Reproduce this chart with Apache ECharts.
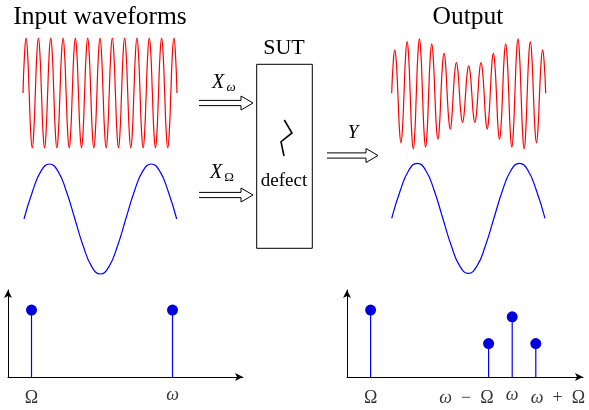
<!DOCTYPE html>
<html><head><meta charset="utf-8">
<script src="https://cdn.jsdelivr.net/npm/echarts@6/dist/echarts.min.js"></script>
<style>html,body{margin:0;padding:0;background:#fff}#c{width:589px;height:410px}</style>
</head><body><div id="c"></div>
<script>
// ---- data ----
// waveforms sampled every 1/8 carrier period (red) and every 1/12 period (blue), amplitude 1 = input peak
const inputCarrier = [0,0.71,1,0.71,0,-0.71,-1,-0.71, 0,0.71,1,0.71,0,-0.71,-1,-0.71, 0,0.71,1,0.71,0,-0.71,-1,-0.71,
  0,0.71,1,0.71,0,-0.71,-1,-0.71, 0,0.71,1,0.71,0,-0.71,-1,-0.71, 0,0.71,1,0.71,0,-0.71,-1,-0.71,
  0,0.71,1,0.71,0,-0.71,-1,-0.71, 0,0.71,1,0.71,0,-0.71,-1,-0.71, 0,0.71,1,0.71,0,-0.71,-1,-0.71,
  0,0.71,1,0.71,0,-0.71,-1,-0.71, 0,0.71,1,0.71,0,-0.71,-1,-0.71, 0,0.71,1,0.71,0,-0.71,-1,-0.71,
  0,0.71,1,0.71,0];
const inputModulator = [0,0.5,0.87,1,0.87,0.5,0,-0.5,-0.87,-1,-0.87,-0.5,0,0.5,0.87,1,0.87,0.5,0];
const outputCarrier = [0,0.56,0.79,0.56, 0,-0.64,-0.90,-0.64, 0,0.67,0.94,0.67, 0,-0.72,-1.01,-0.72,
  0,0.70,0.99,0.70, 0,-0.70,-0.98,-0.70, 0,0.64,0.90,0.64, 0,-0.60,-0.84,-0.60,
  0,0.52,0.73,0.52, 0,-0.46,-0.65,-0.46, 0,0.40,0.56,0.40, 0,-0.38,-0.53,-0.38,
  0,0.36,0.50,0.36, 0,-0.38,-0.53,-0.38, 0,0.40,0.56,0.40, 0,-0.46,-0.65,-0.46,
  0,0.52,0.73,0.52, 0,-0.60,-0.84,-0.60, 0,0.64,0.90,0.64, 0,-0.70,-0.98,-0.70,
  0,0.70,0.99,0.70, 0,-0.72,-1.01,-0.72, 0,0.67,0.94,0.67, 0,-0.64,-0.90,-0.64,
  0,0.56,0.79,0.56, 0];
const outputModulator = [0,0.5,0.87,1,0.87,0.5,0,-0.5,-0.87,-1,-0.87,-0.5,0,0.5,0.87,1,0.87,0.5,0];
// spectra (frequency in units of Omega)
const inputFreqs = [1, 7];
const inputMags = [1, 1];
const inputLabels = ['Ω', 'ω'];
const outputFreqs = [1, 6, 7, 8];
const outputMags = [1, 0.5, 0.9, 0.5];
const outputLabels = ['Ω', 'ω − Ω', 'ω', 'ω + Ω'];
// texts
const titleIn = 'Input waveforms';
const titleOut = 'Output';
const blockName = 'SUT';
const blockNote = 'defect';

// ---- styles ----
const SERIF = "'Liberation Serif','DejaVu Serif',serif";
const RED = '#ff0000', BLUE = '#0000ff', DOT = '#0000dd';

const waveGrids = [
  {left: 23, top: 35.25, width: 154, height: 115.5},
  {left: 24, top: 161.25, width: 152.7, height: 115.5},
  {left: 391.7, top: 35.55, width: 154, height: 115.5},
  {left: 391.7, top: 160.55, width: 153.3, height: 115.5}
];
const waves = [[inputCarrier, RED], [inputModulator, BLUE], [outputCarrier, RED], [outputModulator, BLUE]];

const specGrids = [
  {left: 8, top: 290, width: 235, height: 87},
  {left: 347, top: 290, width: 236, height: 87}
];
const specs = [[inputFreqs, inputMags, inputLabels], [outputFreqs, outputMags, outputLabels]];

const base = {fontFamily: SERIF, fontSize: 18, color: '#000', lineHeight: 18};
const rich = {
  u: Object.assign({}, base),
  i: Object.assign({}, base, {fontStyle: 'italic'}),
  w: Object.assign({}, base, {fontStyle: 'italic', lineHeight: 12})
};
function richLabel(t) {
  if (t === 'Ω') return '{u|Ω}';
  if (t === 'ω') return '{w|ω}';
  if (t.indexOf('−') >= 0) return '{i|ω}{u|\u2002−\u2002Ω}';
  if (t.indexOf('+') >= 0) return '{i|ω}{u|\u2002+\u2002Ω}';
  return t;
}
function labelPlacement(t) {
  if (t.indexOf('−') >= 0) return {align: 'right', offset: [5, 0]};
  if (t.indexOf('+') >= 0) return {align: 'left', offset: [-5, 0]};
  return {};
}

const grid = [], xAxis = [], yAxis = [], series = [];
waves.forEach(([d, col], k) => {
  grid.push(waveGrids[k]);
  xAxis.push({gridIndex: k, type: 'category', boundaryGap: false, data: d.map((_, i) => i), show: false});
  yAxis.push({gridIndex: k, type: 'value', min: -1.05, max: 1.05, show: false});
  series.push({type: 'line', xAxisIndex: k, yAxisIndex: k, data: d, smooth: true, showSymbol: false,
    clip: false, lineStyle: {color: col, width: 1.2}, silent: true});
});
specs.forEach(([f, m, l], j) => {
  const k = waves.length + j;
  grid.push(specGrids[j]);
  xAxis.push({gridIndex: k, type: 'value', min: 0, max: 10,
    axisLine: {show: true, symbol: ['none', 'arrow'], symbolSize: [6, 8], lineStyle: {color: '#000', width: 1}},
    axisTick: {show: false}, splitLine: {show: false}, axisLabel: {show: false}});
  yAxis.push({gridIndex: k, type: 'value', min: 0, max: 1.3,
    axisLine: {show: true, symbol: ['none', 'arrow'], symbolSize: [6, 8], lineStyle: {color: '#000', width: 1}},
    axisTick: {show: false}, splitLine: {show: false}, axisLabel: {show: false}});
  const pts = f.map((x, i) => [x, m[i]]);
  series.push({type: 'bar', xAxisIndex: k, yAxisIndex: k, data: pts, barWidth: 1.2,
    itemStyle: {color: BLUE}, silent: true});
  series.push({type: 'scatter', xAxisIndex: k, yAxisIndex: k, data: pts, symbolSize: 11,
    itemStyle: {color: DOT, opacity: 1}, silent: true, z: 5});
  series.push({type: 'scatter', xAxisIndex: k, yAxisIndex: k, symbolSize: 0, silent: true, clip: false,
    data: f.map((x, i) => ({value: [x, 0], label: labelPlacement(l[i])})),
    label: {show: true, position: 'bottom', distance: 12, rich: rich,
      formatter: p => richLabel(l[p.dataIndex])}});
});

// ---- block diagram decorations ----
function dblArrow(x0, x1, y) {
  const xb = x1 - 12, g = 2.6, h = 7;
  const st = {stroke: '#000', lineWidth: 1, fill: null};
  return [
    {type: 'polyline', shape: {points: [[x0, y - g], [xb, y - g]]}, style: st},
    {type: 'polyline', shape: {points: [[x0, y + g], [xb, y + g]]}, style: st},
    {type: 'polyline', shape: {points: [[xb, y - g], [xb, y - h], [x1, y], [xb, y + h], [xb, y + g]]}, style: st}
  ];
}
function txt(text, x, y, font) {
  return {type: 'text', x: x, y: y, style: {text: text, font: font + ' ' + SERIF,
    fill: '#000', align: 'center', verticalAlign: 'middle'}};
}
const graphic = [
  txt(titleIn, 100, 17, '25.5px'),
  txt(titleOut, 468, 17, '25.5px'),
  txt(blockName, 284, 48, '22px'),
  {type: 'rect', shape: {x: 256.7, y: 64.3, width: 55.6, height: 184}, style: {stroke: '#000', lineWidth: 1, fill: null}},
  {type: 'polyline', shape: {points: [[284.3, 120], [292, 133], [281, 141.7], [284, 156]]}, style: {stroke: '#000', lineWidth: 1.6, fill: null}},
  txt(blockNote, 284, 181, '19px'),
  ...dblArrow(199, 253, 103),
  ...dblArrow(199, 253, 195),
  ...dblArrow(327, 378, 155.5),
  txt('X', 218, 83, 'italic 20px'),
  txt('ω', 231, 88, 'italic 13px'),
  txt('X', 216, 173, 'italic 20px'),
  txt('Ω', 229, 178, '13px'),
  txt('Y', 353, 133, 'italic 19px')
];

const chart = echarts.init(document.getElementById('c'), null, {renderer: 'canvas'});
chart.setOption({animation: false, backgroundColor: '#fff', grid, xAxis, yAxis, series, graphic});
</script></body></html>
